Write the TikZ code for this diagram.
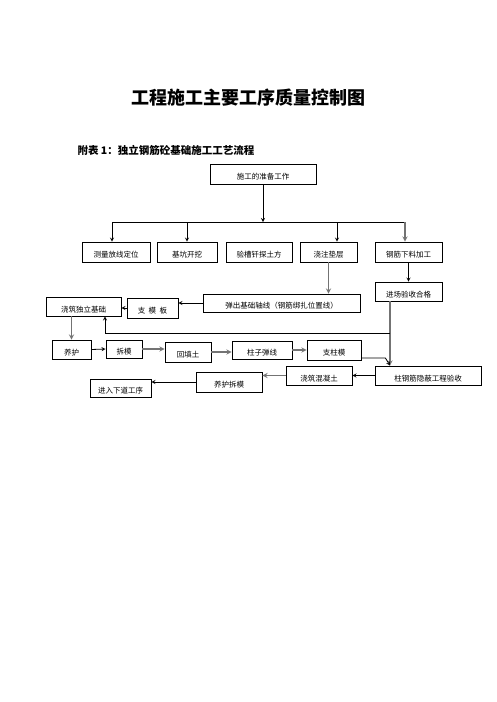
\documentclass[tikz,border=0pt]{standalone}
\usepackage{fontspec}
\newfontfamily\cjk{Noto Sans CJK SC}
\begin{document}
\begin{tikzpicture}[x=1pt,y=-1pt,>=stealth,
    box/.style={draw, thick, inner sep=0pt, minimum height=19pt, text height=11pt, text depth=0pt, font=\cjk\fontsize{7.5}{8}\selectfont},
    grayline/.style={draw=black!55, line width=1.3pt}]
    \useasboundingbox (0,0) rectangle (496,702);

    \node (title) at (248,98) {\cjk\bfseries\fontsize{18}{20}\selectfont 工程施工主要工序质量控制图};
    \node [anchor=west] (subtitle) at (74,150) {\cjk\bfseries\fontsize{10.5}{12}\selectfont 附表 1：独立钢筋砼基础施工工艺流程};

    \node [box, minimum width=106pt, minimum height=20pt] (prep) at (263,174) {施工的准备工作};

    \node [box, minimum width=68pt, minimum height=20pt] (survey) at (116,252) {测量放线定位};
    \node [box, minimum width=60pt, minimum height=20pt] (excav) at (187,252) {基坑开挖};
    \node [box, minimum width=66pt, minimum height=20pt] (trench) at (259,252) {验槽钎探土方};
    \node [box, minimum width=57pt, minimum height=20pt] (cushion) at (328.5,252) {浇注垫层};
    \node [box, minimum width=67pt, minimum height=20pt] (rebar) at (408.5,252) {钢筋下料加工};
    \node [box, minimum width=67pt] (accept) at (408.5,291.5) {进场验收合格};

    \node [box, minimum width=157pt, minimum height=18pt] (axis) at (281.5,303) {弹出基础轴线（钢筋绑扎位置线）};
    \node [box, minimum width=51pt, minimum height=20pt] (form) at (152.5,308) {支\ \ 模\ \ 板};
    \node [box, minimum width=75pt] (pour) at (83.5,306.5) {浇筑独立基础};

    \node [box, minimum width=39pt] (cure) at (71.5,349.5) {养护};
    \node [box, minimum width=36pt, minimum height=18pt] (strip) at (124,349) {拆模};
    \node [box, minimum width=46pt, minimum height=20pt] (backfill) at (188,352) {回填土};
    \node [box, minimum width=60pt, minimum height=18pt] (colline) at (262,350) {柱子弹线};
    \node [box, minimum width=54pt, minimum height=20pt] (colform) at (334,350) {支柱模};

    \node [box, minimum width=106pt] (hidden) at (428,375.5) {柱钢筋隐蔽工程验收};
    \node [box, minimum width=66pt] (concrete) at (319,375.5) {浇筑混凝土};
    \node [box, minimum width=66pt, minimum height=20pt] (curestrip) at (229,382) {养护拆模};
    \node [box, minimum width=61pt, minimum height=18pt] (next) at (120.5,388) {进入下道工序};

    % bus under the preparation box
    \coordinate (t1) at (112,222);
    \coordinate (t2) at (187,222);
    \coordinate (t4) at (337,222);
    \coordinate (t5) at (405,222);
    \draw [thick] (t1) -- (t5);
    \draw [thick, ->] (prep.south) -- (prep.south |- t1);
    \draw [thick, ->] (t1) -- (t1 |- survey.north);
    \draw [thick, ->] (t2) -- (t2 |- excav.north);
    \draw [thick, ->] (t4) -- (t4 |- cushion.north);
    \draw [grayline, ->] (t5) -- (t5 |- rebar.north);

    \draw [grayline, ->] (cushion.south) -- (cushion.south |- axis.north);
    \draw [thick, ->] (rebar.south) -- (accept.north);
    \draw [thick, ->] (axis.west) -- (axis.west -| form.east);
    \draw [thick, ->] (form.west) -- (form.west -| pour.east);
    \draw [grayline, ->] (pour.south -| cure.north) -- (cure.north);

    % rebar line back to the foundation
    \coordinate (c1) at (390,333);
    \coordinate (c2) at (105,333);
    \draw [grayline, ->] (accept.south -| c1) -- (c1 |- hidden.north);
    \draw [thick, ->] (c1) -- (c2) -- (c2 |- pour.south);

    \draw [thick, ->] (cure.east) -- (strip.west);
    \draw [grayline, ->] (strip.east) -- (strip.east -| backfill.west);
    \draw [grayline, ->] (backfill.east) -- (backfill.east -| colline.west);
    \draw [grayline, ->] (colline.east) -- (colline.east -| colform.west);
    \draw [thick, ->] ([yshift=-8pt]colform.east) -- ++(24,0) -- (c1 |- hidden.north);

    \draw [thick, ->] (hidden.west) -- (hidden.west -| concrete.east);
    \draw [grayline, ->] (concrete.west) -- (concrete.west -| curestrip.east);
    \draw [thick, ->] (curestrip.west) -- (curestrip.west -| next.east);
\end{tikzpicture}
\end{document}
